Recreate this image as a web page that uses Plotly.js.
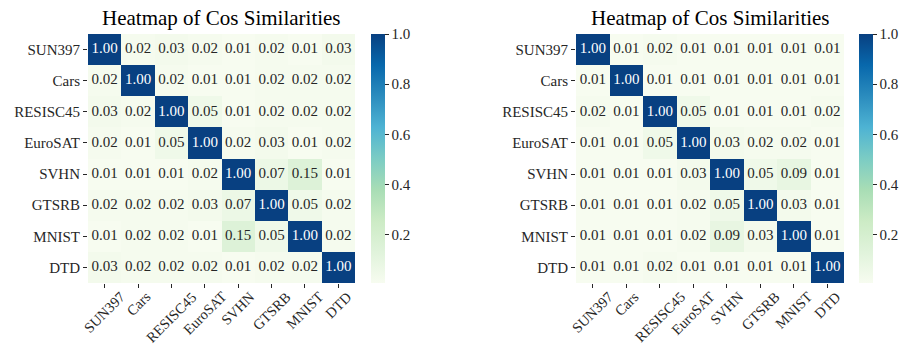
<!DOCTYPE html>
<html>
<head>
<meta charset="utf-8">
<script src="https://cdn.plot.ly/plotly-3.0.1.min.js"></script>
<style>html,body{margin:0;padding:0;background:#fff;}#chart{width:903px;height:345px;}</style>
</head>
<body>
<div id="chart"></div>
<script>
const categories = ['SUN397','Cars','RESISC45','EuroSAT','SVHN','GTSRB','MNIST','DTD'];
const leftValues = [
  [1.00,0.02,0.03,0.02,0.01,0.02,0.01,0.03],
  [0.02,1.00,0.02,0.01,0.01,0.02,0.02,0.02],
  [0.03,0.02,1.00,0.05,0.01,0.02,0.02,0.02],
  [0.02,0.01,0.05,1.00,0.02,0.03,0.01,0.02],
  [0.01,0.01,0.01,0.02,1.00,0.07,0.15,0.01],
  [0.02,0.02,0.02,0.03,0.07,1.00,0.05,0.02],
  [0.01,0.02,0.02,0.01,0.15,0.05,1.00,0.02],
  [0.03,0.02,0.02,0.02,0.01,0.02,0.02,1.00]
];
const rightValues = [
  [1.00,0.01,0.02,0.01,0.01,0.01,0.01,0.01],
  [0.01,1.00,0.01,0.01,0.01,0.01,0.01,0.01],
  [0.02,0.01,1.00,0.05,0.01,0.01,0.01,0.02],
  [0.01,0.01,0.05,1.00,0.03,0.02,0.02,0.01],
  [0.01,0.01,0.01,0.03,1.00,0.05,0.09,0.01],
  [0.01,0.01,0.01,0.02,0.05,1.00,0.03,0.01],
  [0.01,0.01,0.01,0.02,0.09,0.03,1.00,0.01],
  [0.01,0.01,0.02,0.01,0.01,0.01,0.01,1.00]
];
const colorbarTicks = [0.2,0.4,0.6,0.8,1.0];
const titleText = 'Heatmap of Cos Similarities';

const GnBu = [
  [0.000,'#f7fcf0'],[0.125,'#e0f3db'],[0.250,'#ccebc5'],[0.375,'#a8ddb5'],
  [0.500,'#7bccc4'],[0.625,'#4eb3d3'],[0.750,'#2b8cbe'],[0.875,'#0868ac'],[1.000,'#084081']
];
const W = 903, H = 345;
const FONT = 'Liberation Serif, Times New Roman, serif';
const DARK = '#262626';
const px = v => v / W;
const py = v => 1 - v / H;
const catRange = [-0.5, categories.length - 0.5];

function minOf(m){ return Math.min.apply(null, m.flat()); }

function heat(z, xa, ya, cbx){
  return {
    type:'heatmap', z:z, x:categories, y:categories, xaxis:xa, yaxis:ya,
    colorscale:GnBu, zmin:minOf(z)*0.8, zmax:1.0,
    hoverinfo:'skip', xgap:0, ygap:0,
    colorbar:{
      x:px(cbx), xanchor:'left', xpad:0, ypad:0, thickness:14, thicknessmode:'pixels',
      len:(283-34)/H, lenmode:'fraction', y:py(283), yanchor:'bottom',
      outlinewidth:0, ticks:'outside', ticklen:4, tickcolor:DARK,
      tickvals:colorbarTicks, tickformat:'.1f',
      tickfont:{family:FONT, size:15, color:DARK}
    }
  };
}

function cellText(z, xa, ya){
  const xs=[], ys=[], ts=[], cs=[];
  z.forEach((row,i)=>row.forEach((v,j)=>{
    xs.push(categories[j]); ys.push(categories[i]);
    ts.push(v.toFixed(2)); cs.push(v > 0.5 ? '#ffffff' : DARK);
  }));
  return {type:'scatter', mode:'text', x:xs, y:ys, text:ts, xaxis:xa, yaxis:ya,
    textposition:'middle center', textfont:{family:FONT, size:15, color:cs},
    hoverinfo:'skip', showlegend:false, cliponaxis:false};
}

const data = [
  heat(leftValues,'x','y',371), heat(rightValues,'x2','y2',859),
  cellText(leftValues,'x','y'), cellText(rightValues,'x2','y2')
];

function xaxis(d){
  return {domain:d, range:catRange.slice(), autorange:false, showgrid:false, zeroline:false, showline:false, ticks:'outside',
    ticklen:4, tickcolor:DARK, showticklabels:false, fixedrange:true};
}
function yaxis(anchor){
  return {domain:[py(283), py(34)], anchor:anchor, range:catRange.slice().reverse(), autorange:false, showgrid:false,
    zeroline:false, showline:false, ticks:'outside', ticklen:4, tickcolor:DARK,
    tickfont:{family:FONT, size:15, color:DARK}, fixedrange:true};
}

const annotations = [];
[['x',88,355],['x2',576,844]].forEach(([xr,a,b])=>{
  annotations.push({text:titleText, xref:'paper', yref:'paper', x:px((a+b)/2), y:py(18),
    xanchor:'center', yanchor:'middle', showarrow:false, font:{family:FONT, size:21, color:'#000'}});
  categories.forEach(c=>{
    annotations.push({text:c, xref:xr, yref:'paper', x:c, y:py(287), xanchor:'center', yanchor:'top',
      textangle:-45, showarrow:false, borderpad:0, font:{family:FONT, size:14.5, color:DARK}});
  });
});

const layout = {
  width:W, height:H, margin:{l:0,r:0,t:0,b:0,pad:0,autoexpand:false}, paper_bgcolor:'#fff', plot_bgcolor:'#fff',
  showlegend:false, font:{family:FONT, color:DARK},
  xaxis:Object.assign(xaxis([px(88),px(355)]),{anchor:'y'}),
  yaxis:yaxis('x'),
  xaxis2:Object.assign(xaxis([px(576),px(844)]),{anchor:'y2'}),
  yaxis2:yaxis('x2'),
  annotations:annotations
};
Plotly.newPlot('chart', data, layout, {displayModeBar:false, staticPlot:true});
</script>
</body>
</html>
